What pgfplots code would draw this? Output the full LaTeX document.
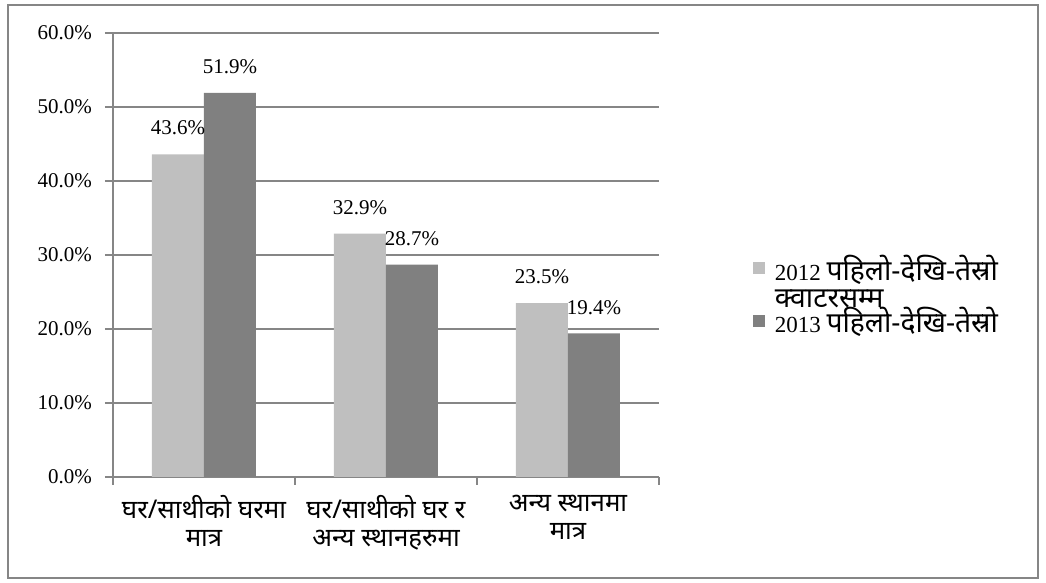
\documentclass[border=0pt]{standalone}
\usepackage{pgfplots}
\pgfplotsset{compat=1.18}
\usepackage{fontspec}
\setmainfont{Liberation Serif}
\newfontfamily\deva[Script=Devanagari, Scale=1.23]{Noto Sans}
\definecolor{lightbar}{HTML}{BFBFBF}
\definecolor{darkbar}{HTML}{808080}
\definecolor{gridc}{HTML}{868686}
\begin{document}
\begin{tikzpicture}
\useasboundingbox (-56.5pt,-53pt) rectangle (466.5pt,238.5pt);
\draw[gridc, line width=0.8pt] (-52.5pt,-50.5pt) rectangle (462.5pt,236pt);
\begin{axis}[
  at={(0pt,0pt)}, anchor=south west,
  scale only axis, width=273pt, height=222pt,
  ybar=0pt, bar width=26pt,
  xmin=-0.5, xmax=2.5, ymin=0, ymax=60,
  axis x line*=bottom, axis y line*=left,
  axis line style={-, draw=gridc, line width=0.8pt},
  tick align=outside, major tick length=4pt,
  tick style={draw=gridc, line width=0.8pt},
  xtick={-0.5,0.5,1.5,2.5}, xticklabels={,,,},
  extra x ticks={0,1,2},
  extra x tick labels={{घर/साथीको घरमा\\मात्र},{घर/साथीको घर र\\अन्य स्थानहरुमा},{अन्य स्थानमा\\मात्र}},
  extra x tick style={major tick length=0pt, grid=none,
    tick label style={font=\fontsize{10.5}{14}\selectfont\deva, align=center, yshift=-5.5pt}},
  ytick={0,10,...,60},
  ymajorgrids, grid style={draw=gridc, line width=0.8pt},
  yticklabel={\pgfmathprintnumber[fixed,fixed zerofill,precision=1]{\tick}\%},
  yticklabel style={font=\fontsize{10.5}{12}\selectfont, xshift=-3pt},
  /pgf/number format/assume math mode=true,
  nodes near coords={\pgfmathprintnumber[fixed,fixed zerofill,precision=1]{\pgfplotspointmeta}\%},
  every node near coord/.append style={font=\fontsize{10.5}{12}\selectfont, black, yshift=6pt},
  legend image code/.code={\fill[#1] (0pt,3pt) rectangle (6.2pt,9pt); \path (9pt,3pt);},
  legend style={draw=none, fill=none, at={(1.16,0.519)}, anchor=north west,
    font=\fontsize{11.5}{13.5}\selectfont, cells={anchor=base west}, row sep=8pt},
]
\addplot[fill=lightbar, draw=none] coordinates {(0,43.6) (1,32.9) (2,23.5)};
\addplot[fill=darkbar, draw=none] coordinates {(0,51.9) (1,28.7) (2,19.4)};
\legend{{\begin{tabular}[t]{@{}l@{}}2012 {\deva पहिलो-देखि-तेस्रो}\\{\deva क्वाटरसम्म}\end{tabular}},{2013 {\deva पहिलो-देखि-तेस्रो}}}
\end{axis}
\end{tikzpicture}
\end{document}
